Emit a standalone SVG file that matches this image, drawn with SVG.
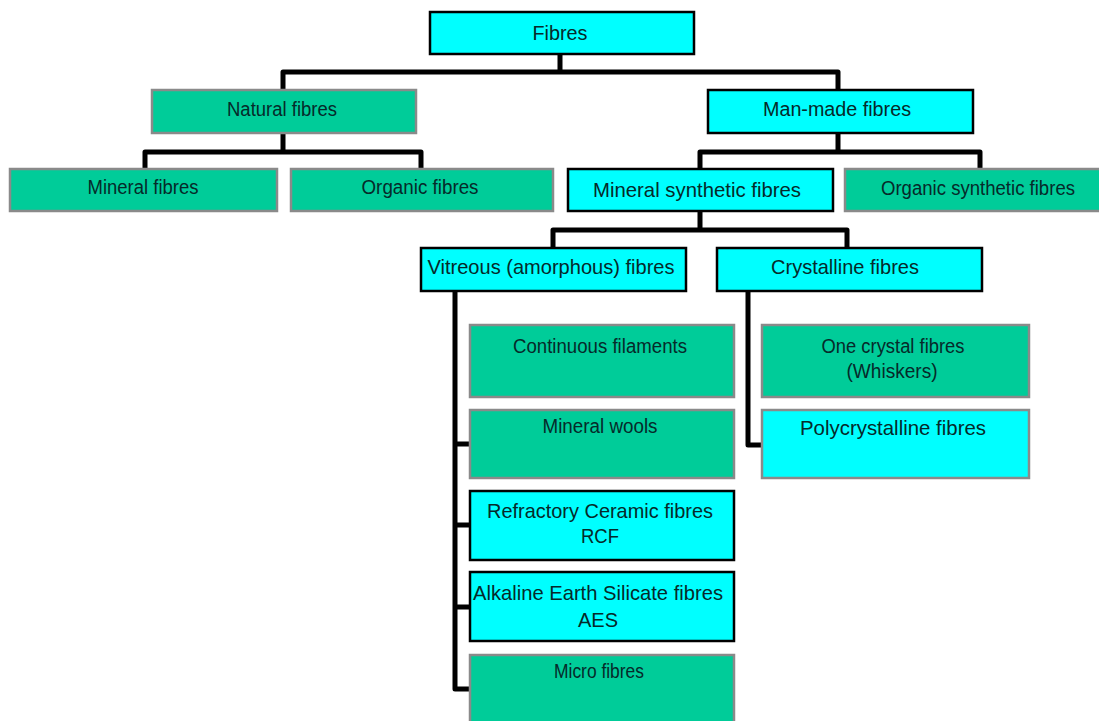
<svg xmlns="http://www.w3.org/2000/svg" width="1099" height="721" viewBox="0 0 1099 721">
<style>
.c{fill:#00FFFF;stroke:#000;stroke-width:2.5}
.g{fill:#00CC99;stroke:#8a8a8a;stroke-width:2.5}
.gc{fill:#00FFFF;stroke:#8a8a8a;stroke-width:2.5}
text{font-family:"Liberation Sans",Arial,sans-serif;font-size:20px;fill:#062a2a;text-anchor:middle}
.b{font-size:21px}
.k{fill:none;stroke:#000;stroke-width:5;stroke-linejoin:round}
</style>
<rect width="1099" height="721" fill="#fff"/>
<g id="connectors">
<path class="k" d="M560 54V72M283 90V72H838V90"/>
<path class="k" d="M283 133V152M145 169V152H421V169"/>
<path class="k" d="M838 133V152M700 169V152H980V169"/>
<path class="k" d="M700 211V230M553 248V230H847V248"/>
<path class="k" d="M455 291V689H470M455 444H470M455 525H470M455 607H470"/>
<path class="k" d="M748 291V445H763"/>
</g>
<g id="fibres"><rect class="c" x="430" y="12" width="264" height="42"/><text class="b" x="560" y="40" textLength="55" lengthAdjust="spacingAndGlyphs">Fibres</text></g>
<g id="natural"><rect class="g" x="152" y="90" width="264" height="43"/><text x="282" y="116" textLength="110" lengthAdjust="spacingAndGlyphs">Natural fibres</text></g>
<g id="manmade"><rect class="c" x="708" y="90" width="265" height="43"/><text x="837" y="116" textLength="148" lengthAdjust="spacingAndGlyphs">Man-made fibres</text></g>
<g id="mineral"><rect class="g" x="10" y="169" width="267" height="42"/><text x="143" y="194" textLength="111" lengthAdjust="spacingAndGlyphs">Mineral fibres</text></g>
<g id="organic"><rect class="g" x="291" y="169" width="262" height="42"/><text x="420" y="194" textLength="117" lengthAdjust="spacingAndGlyphs">Organic fibres</text></g>
<g id="minsyn"><rect class="c" x="568" y="169" width="265" height="42"/><text class="b" x="697" y="197" textLength="208" lengthAdjust="spacingAndGlyphs">Mineral synthetic fibres</text></g>
<g id="orgsyn"><rect class="g" x="845" y="169" width="256" height="42"/><text x="978" y="195" textLength="194" lengthAdjust="spacingAndGlyphs">Organic synthetic fibres</text></g>
<g id="vitreous"><rect class="c" x="421" y="248" width="265" height="43"/><text class="b" x="551" y="274" textLength="247" lengthAdjust="spacingAndGlyphs">Vitreous (amorphous) fibres</text></g>
<g id="crystalline"><rect class="c" x="717" y="248" width="265" height="43"/><text class="b" x="845" y="274" textLength="148" lengthAdjust="spacingAndGlyphs">Crystalline fibres</text></g>
<g id="continuous"><rect class="g" x="470" y="325" width="264" height="72"/><text x="600" y="353" textLength="174" lengthAdjust="spacingAndGlyphs">Continuous filaments</text></g>
<g id="wools"><rect class="g" x="470" y="410" width="264" height="68"/><text x="600" y="433" textLength="115" lengthAdjust="spacingAndGlyphs">Mineral wools</text></g>
<g id="rcf"><rect class="c" x="470" y="491" width="264" height="69"/><text class="b" x="600" y="518" textLength="226" lengthAdjust="spacingAndGlyphs">Refractory Ceramic fibres</text><text class="b" x="600" y="543" textLength="38" lengthAdjust="spacingAndGlyphs">RCF</text></g>
<g id="aes"><rect class="c" x="470" y="572" width="264" height="69"/><text class="b" x="598" y="600" textLength="250" lengthAdjust="spacingAndGlyphs">Alkaline Earth Silicate fibres</text><text class="b" x="598" y="627" textLength="40" lengthAdjust="spacingAndGlyphs">AES</text></g>
<g id="micro"><rect class="g" x="470" y="655" width="264" height="70"/><text x="599" y="678" textLength="90" lengthAdjust="spacingAndGlyphs">Micro fibres</text></g>
<g id="onecrystal"><rect class="g" x="762" y="325" width="267" height="72"/><text x="893" y="353" textLength="143" lengthAdjust="spacingAndGlyphs">One crystal fibres</text><text x="892" y="378" textLength="91" lengthAdjust="spacingAndGlyphs">(Whiskers)</text></g>
<g id="poly"><rect class="gc" x="762" y="410" width="267" height="68"/><text class="b" x="893" y="435" textLength="186" lengthAdjust="spacingAndGlyphs">Polycrystalline fibres</text></g>
</svg>
